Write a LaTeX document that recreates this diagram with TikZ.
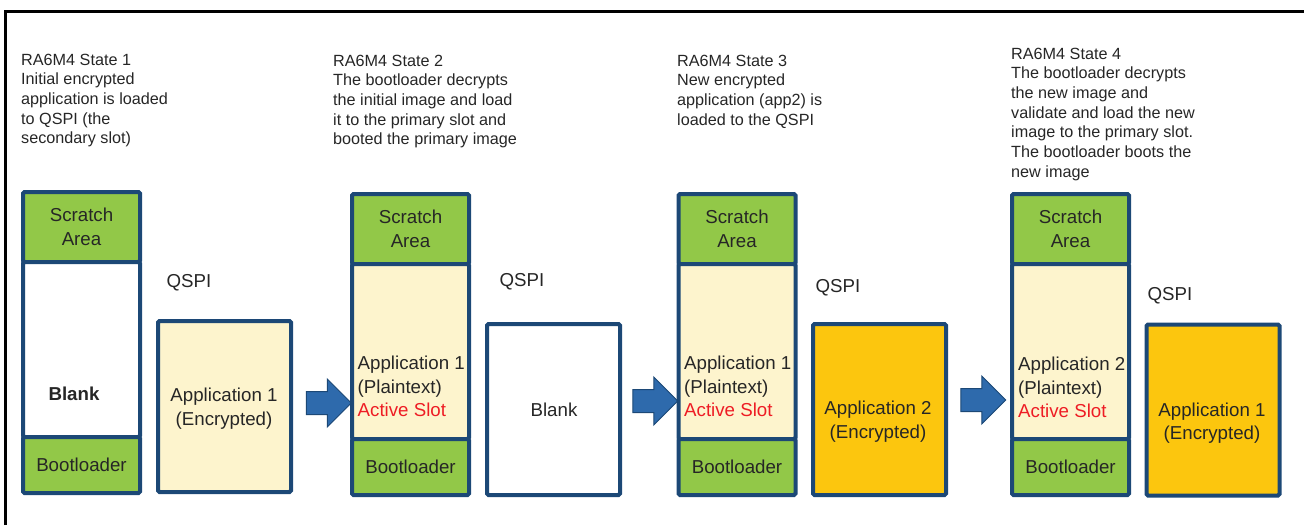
\documentclass[tikz,border=0pt]{standalone}
\usepackage{fontspec}
\setmainfont{Liberation Sans}
\usetikzlibrary{positioning,shapes.arrows}
\definecolor{memBlue}{RGB}{28,72,118}
\definecolor{memGreen}{RGB}{146,200,72}
\definecolor{slotYellow}{RGB}{253,244,205}
\definecolor{encOrange}{RGB}{252,198,14}
\definecolor{arrowBlue}{RGB}{46,106,172}
\definecolor{activeRed}{RGB}{238,28,36}
\definecolor{textGray}{RGB}{38,38,38}
\newcommand{\descfont}{\fontsize{16.2}{19.7}\selectfont}
\newcommand{\boxfont}{\fontsize{18.7}{23.4}\selectfont}

\begin{document}
\begin{tikzpicture}[
  x=1pt,y=-1pt,
  desc/.style={
    anchor=north west,
    align=left,
    inner sep=0pt,
    text=textGray,
    font=\descfont
  },
  membox/.style={
    draw=memBlue,
    line width=4pt,
    rounded corners=1.5pt,
    minimum width=117pt,
    inner sep=0pt,
    outer sep=0pt,
    align=center,
    text=textGray,
    font=\boxfont
  },
  scratch/.style={membox,fill=memGreen,minimum height=70pt},
  slot/.style={membox,minimum height=175pt},
  boot/.style={membox,fill=memGreen,minimum height=56pt},
  qspibox/.style={membox,minimum width=133pt,minimum height=171pt},
  boxtext/.style={align=center,inner sep=0pt,text=textGray,font=\boxfont},
  slottext/.style={anchor=west,align=left,inner sep=0pt,text=textGray,font=\boxfont},
  blockarrow/.style={
    single arrow,
    draw=memBlue,
    fill=arrowBlue,
    line width=1pt,
    minimum height=45pt,
    minimum width=47pt,
    inner xsep=0pt,
    inner ysep=11pt,
    single arrow head extend=12.5pt,
    single arrow head indent=0pt
  }
]
  \useasboundingbox (0,0) rectangle (1304,525);
  \draw[line width=2.7pt] (5.7,525) -- (5.7,11.5) -- (1304,11.5);

  % State 1
  \node[desc] (d1) at (21,53.5)
    {RA6M4 State 1\\Initial encrypted\\application is loaded\\to QSPI (the\\secondary slot)};
  \node[scratch] (s1) at (81.5,227) {Scratch\\Area};
  \node[slot,fill=white,below=0pt of s1] (m1) {};
  \node[boot,below=0pt of m1] (b1) {Bootloader};
  \node[boxtext,font=\boxfont\bfseries] (t1) at (74,394) {Blank};
  \node[boxtext] (l1) at (189,283) {QSPI};
  \node[qspibox,fill=slotYellow] (q1) at (224.5,406.5) {};
  \node[boxtext] (e1) at (224,408.5) {Application 1\\(Encrypted)};
  \node[blockarrow] (a1) at (323,403) {};

  % State 2
  \node[desc] (d2) at (333,54.5)
    {RA6M4 State 2\\The bootloader decrypts\\the initial image and load\\it to the primary slot and\\booted the primary image};
  \node[scratch] (s2) at (410.5,229) {Scratch\\Area};
  \node[slot,fill=slotYellow,below=0pt of s2] (m2) {};
  \node[boot,below=0pt of m2] (b2) {Bootloader};
  \node[slottext] (t2) at (357.5,386.5)
    {Application 1\\(Plaintext)\\\textcolor{activeRed}{Active Slot}};
  \node[boxtext] (l2) at (522,282) {QSPI};
  \node[qspibox,fill=white] (q2) at (553.5,409.5) {};
  \node[boxtext] (e2) at (554,410) {Blank};
  \node[blockarrow] (a2) at (649.5,401) {};

  % State 3
  \node[desc] (d3) at (677,54.5)
    {RA6M4 State 3\\New encrypted\\application (app2) is\\loaded to the QSPI};
  \node[scratch] (s3) at (737,229) {Scratch\\Area};
  \node[slot,fill=slotYellow,below=0pt of s3] (m3) {};
  \node[boot,below=0pt of m3] (b3) {Bootloader};
  \node[slottext] (t3) at (684,386.5)
    {Application 1\\(Plaintext)\\\textcolor{activeRed}{Active Slot}};
  \node[boxtext] (l3) at (838,288) {QSPI};
  \node[qspibox,fill=encOrange] (q3) at (879.5,409.5) {};
  \node[boxtext] (e3) at (878,421.5) {Application 2\\(Encrypted)};
  \node[blockarrow] (a3) at (977.5,400) {};

  % State 4
  \node[desc] (d4) at (1011,47.5)
    {RA6M4 State 4\\The bootloader decrypts\\the new image and\\validate and load the new\\image to the primary slot.\\The bootloader boots the\\new image};
  \node[scratch] (s4) at (1070.5,229) {Scratch\\Area};
  \node[slot,fill=slotYellow,below=0pt of s4] (m4) {};
  \node[boot,below=0pt of m4] (b4) {Bootloader};
  \node[slottext] (t4) at (1018,387.5)
    {Application 2\\(Plaintext)\\\textcolor{activeRed}{Active Slot}};
  \node[boxtext] (l4) at (1170,296) {QSPI};
  \node[qspibox,fill=encOrange] (q4) at (1213,410) {};
  \node[boxtext] (e4) at (1212,423) {Application 1\\(Encrypted)};
\end{tikzpicture}
\end{document}
